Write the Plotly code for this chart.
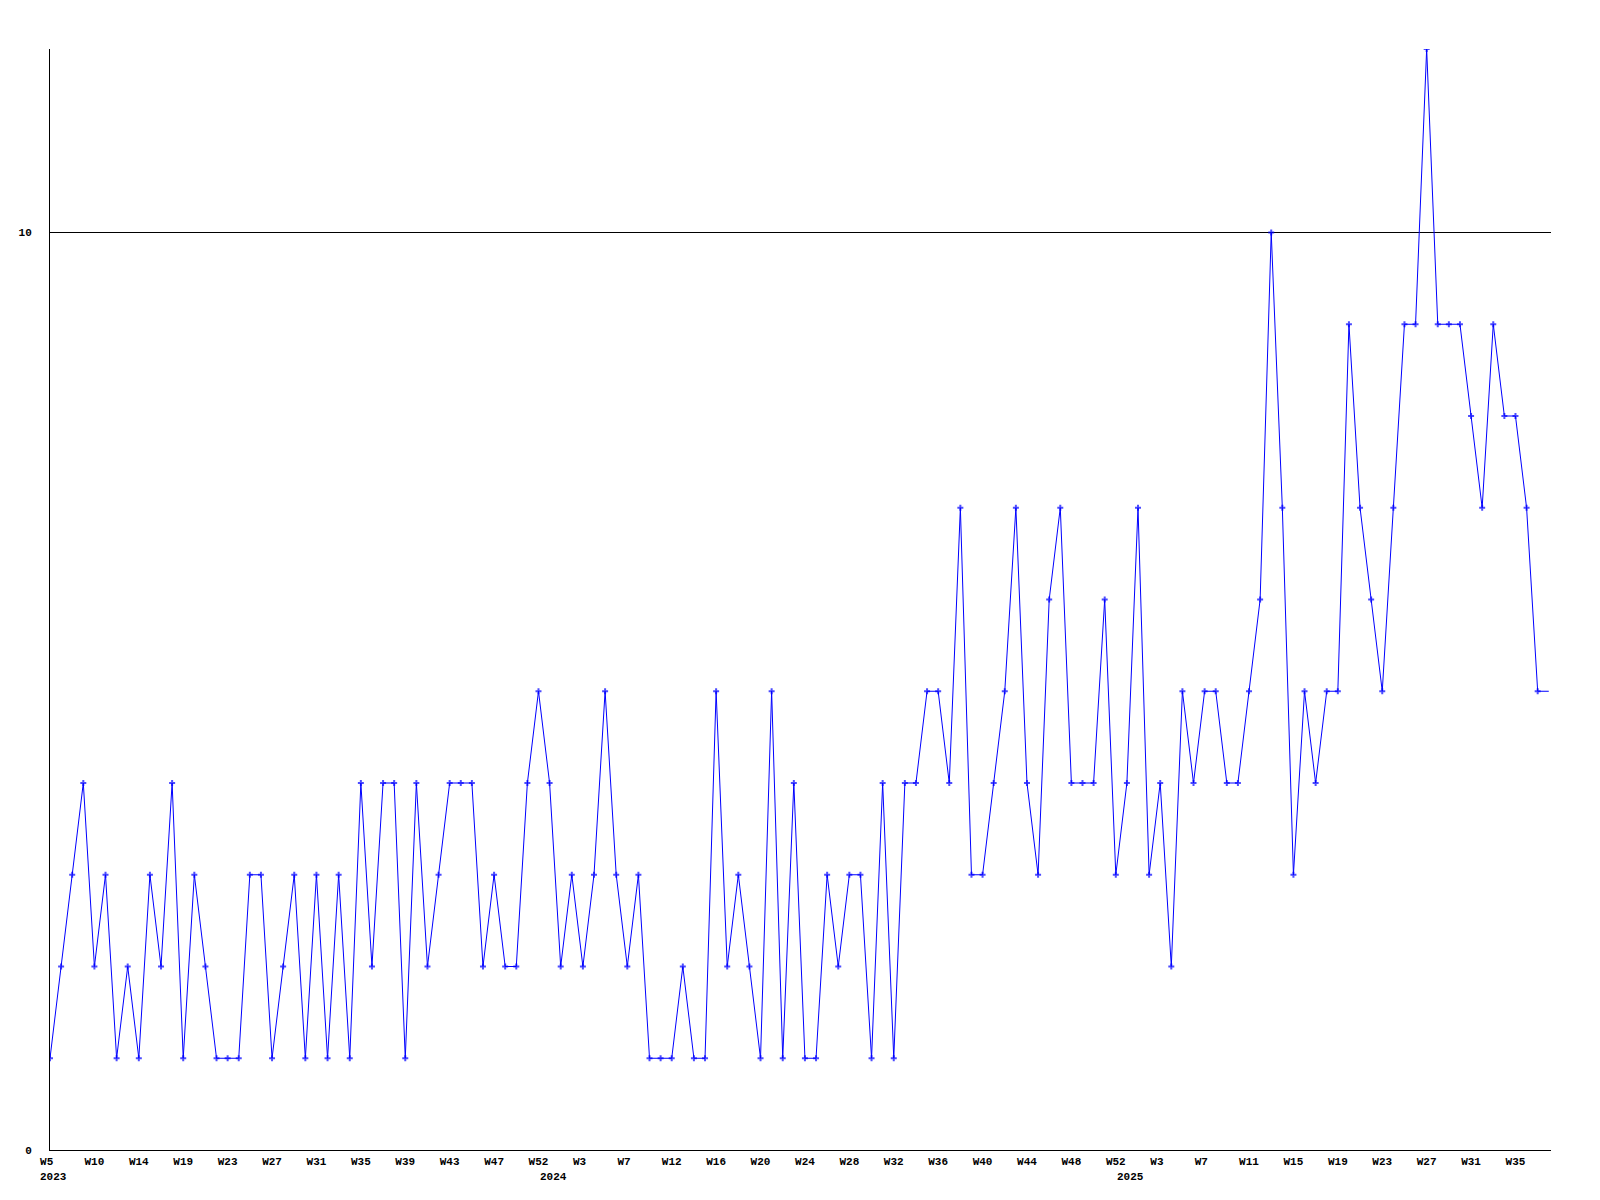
import plotly.graph_objects as go

# weekly values (last value = current, unfinished week, drawn without marker)
values = [
    1, 2, 3, 4, 2, 3, 1, 2, 1, 3, 2, 4, 1, 3, 2, 1, 1, 1, 3, 3, 1, 2, 3, 1, 3, 1,
    3, 1, 4, 2, 4, 4, 1, 4, 2, 3, 4, 4, 4, 2, 3, 2, 2, 4, 5, 4, 2, 3, 2, 3, 5, 3,
    2, 3, 1, 1, 1, 2, 1, 1, 5, 2, 3, 2, 1, 5, 1, 4, 1, 1, 3, 2, 3, 3, 1, 4, 1, 4,
    4, 5, 5, 4, 7, 3, 3, 4, 5, 7, 4, 3, 6, 7, 4, 4, 4, 6, 3, 4, 7, 3, 4, 2, 5, 4,
    5, 5, 4, 4, 5, 6, 10, 7, 3, 5, 4, 5, 5, 9, 7, 6, 5, 7, 9, 9, 12, 9, 9, 9, 8, 7,
    9, 8, 8, 7, 5,
    5,
]

week_labels = ["W5", "W10", "W14", "W19", "W23", "W27", "W31", "W35", "W39", "W43",
               "W47", "W52", "W3", "W7", "W12", "W16", "W20", "W24", "W28", "W32",
               "W36", "W40", "W44", "W48", "W52", "W3", "W7", "W11", "W15", "W19",
               "W23", "W27", "W31", "W35"]
week_label_idx = [i * 4 for i in range(len(week_labels))]

year_labels = ["2023", "2024", "2025"]
year_label_idx = [0, 45, 97]

y_tick_vals = [0, 10]

x = list(range(len(values)))
marker_sizes = [5] * (len(values) - 1) + [0]

FONT = "Liberation Mono, Courier New, monospace"

fig = go.Figure()
fig.add_trace(go.Scatter(
    x=x, y=values, mode="lines+markers",
    line=dict(color="#0000ff", width=1),
    marker=dict(symbol="cross", size=marker_sizes, color="#0000ff", line=dict(width=0)),
    hoverinfo="y", showlegend=False,
))

for txt, idx in zip(year_labels, year_label_idx):
    fig.add_annotation(x=idx, y=0, xref="x", yref="paper", text=txt,
                       showarrow=False, xanchor="left", yanchor="middle",
                       xshift=-12, yshift=-27,
                       font=dict(family=FONT, size=11, color="black", weight="bold"))

ticktext = [t if len(t) == 3 else t + "\u00a0" for t in week_labels]

fig.update_layout(
    width=1600, height=1200,
    margin=dict(l=50, r=49, t=49, b=50),
    paper_bgcolor="white", plot_bgcolor="white",
    xaxis=dict(
        range=[0, 135.2], tickmode="array", tickvals=week_label_idx, ticktext=ticktext,
        showgrid=False, zeroline=False, showline=True, linecolor="black", linewidth=1,
        ticks="", tickfont=dict(family=FONT, size=11, color="black", weight="bold"),
        ticklabelstandoff=1,
    ),
    yaxis=dict(
        range=[0, 12], tickmode="array", tickvals=y_tick_vals,
        showgrid=True, gridcolor="black", gridwidth=1, zeroline=False,
        showline=True, linecolor="black", linewidth=1, ticks="",
        tickfont=dict(family=FONT, size=11, color="black", weight="bold"),
        ticklabelstandoff=15,
    ),
)

fig.write_html("out.html", config={"displayModeBar": False},
               post_script="document.body.style.margin='0';document.body.style.overflow='hidden';")
